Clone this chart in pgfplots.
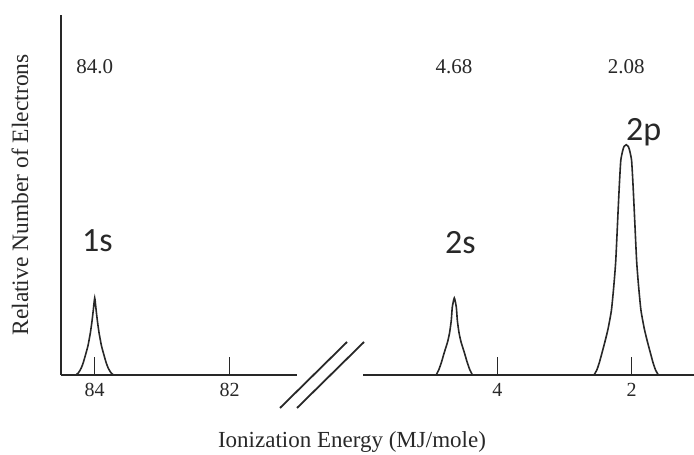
\documentclass[border=0pt]{standalone}
\usepackage{fontspec}
\setmainfont{Liberation Serif}
\newfontfamily\orbfont{Carlito}
\usepackage{pgfplots}
\pgfplotsset{compat=1.18}
\definecolor{ink}{RGB}{40,40,40}

% shared look of both halves of the broken axis
\pgfplotsset{pes/.style={
    scale only axis, height=360pt,
    ymin=0, ymax=4.675, x dir=reverse,
    axis x line=bottom,
    axis line style={-, line width=1.8pt, draw=ink},
    x axis line style={-}, y axis line style={-},
    ytick=\empty, tick align=inside, major tick length=18pt,
    tick style={line width=1.2pt, draw=ink},
    /pgf/number format/assume math mode=true,
    xticklabel style={font=\fontsize{20}{20}\selectfont, text=ink, yshift=-5pt},
    clip=false,
}}
\tikzset{peak/.style={draw=ink, line width=1.6pt, mark=none, smooth, tension=0.35}}

\begin{document}
\begin{tikzpicture}
\useasboundingbox (0pt,0pt) rectangle (694pt,455pt);

\begin{axis}[pes, at={(61pt,80pt)}, anchor=south west, width=236pt,
    xmin=81.0, xmax=84.5, axis y line=left, y axis line style={-}, xtick={82,84}]
  % 1s peak
  \addplot[peak] coordinates {
    (84.28,0) (84.24,0.03) (84.20,0.09) (84.17,0.16) (84.14,0.25)
    (84.10,0.38) (84.064,0.55) (84.04,0.70) (84.02,0.85) (84.00,1.00)
    (83.98,0.85) (83.96,0.70) (83.936,0.55) (83.90,0.38) (83.86,0.25)
    (83.83,0.16) (83.80,0.09) (83.76,0.03) (83.72,0)
  };
  \node[font=\fontsize{21}{21}\selectfont, text=ink, anchor=base] at (axis cs:84.0,3.92) {84.0};
  \node[font=\orbfont\fontsize{34}{34}\selectfont, text=ink, anchor=base] at (axis cs:83.96,1.60) {1s};
\end{axis}

\begin{axis}[pes, at={(363pt,80pt)}, anchor=south west, width=331pt,
    xmin=1.07, xmax=6.0, axis y line=none, xtick={2,4}]
  % 2s peak
  \addplot[peak] coordinates {
    (4.91,0) (4.87,0.07) (4.83,0.17) (4.79,0.29) (4.74,0.43)
    (4.71,0.55) (4.685,0.71) (4.67,0.88) (4.64,1.00) (4.61,0.88)
    (4.595,0.71) (4.57,0.55) (4.54,0.43) (4.49,0.29) (4.45,0.17)
    (4.41,0.07) (4.37,0)
  };
  % 2p peak
  \addplot[peak] coordinates {
    (2.56,0) (2.52,0.06) (2.48,0.16) (2.40,0.42) (2.35,0.60)
    (2.30,0.84) (2.265,1.15) (2.235,1.49) (2.20,2.14) (2.18,2.50)
    (2.16,2.79) (2.13,2.92) (2.11,2.97) (2.08,2.99) (2.05,2.97)
    (2.03,2.92) (2.00,2.79) (1.98,2.50) (1.96,2.14) (1.925,1.49)
    (1.895,1.15) (1.86,0.84) (1.81,0.60) (1.76,0.42) (1.68,0.16)
    (1.64,0.06) (1.60,0)
  };
  \node[font=\fontsize{21}{21}\selectfont, text=ink, anchor=base] at (axis cs:4.645,3.92) {4.68};
  \node[font=\fontsize{21}{21}\selectfont, text=ink, anchor=base] at (axis cs:2.08,3.92) {2.08};
  \node[font=\orbfont\fontsize{34}{34}\selectfont, text=ink, anchor=base] at (axis cs:4.55,1.58) {2s};
  \node[font=\orbfont\fontsize{34}{34}\selectfont, text=ink, anchor=base] at (axis cs:1.82,3.05) {2p};
\end{axis}

% axis break marks
\draw[line width=1.8pt, ink] (280pt,47pt) -- (347pt,113pt);
\draw[line width=1.8pt, ink] (297pt,47pt) -- (364pt,113pt);

\node[rotate=90, font=\fontsize{23.5}{23.5}\selectfont, text=ink] at (20pt,260pt) {Relative Number of Electrons};
\node[font=\fontsize{23}{23}\selectfont, text=ink] at (352pt,13pt) {Ionization Energy (MJ/mole)};
\end{tikzpicture}
\end{document}
